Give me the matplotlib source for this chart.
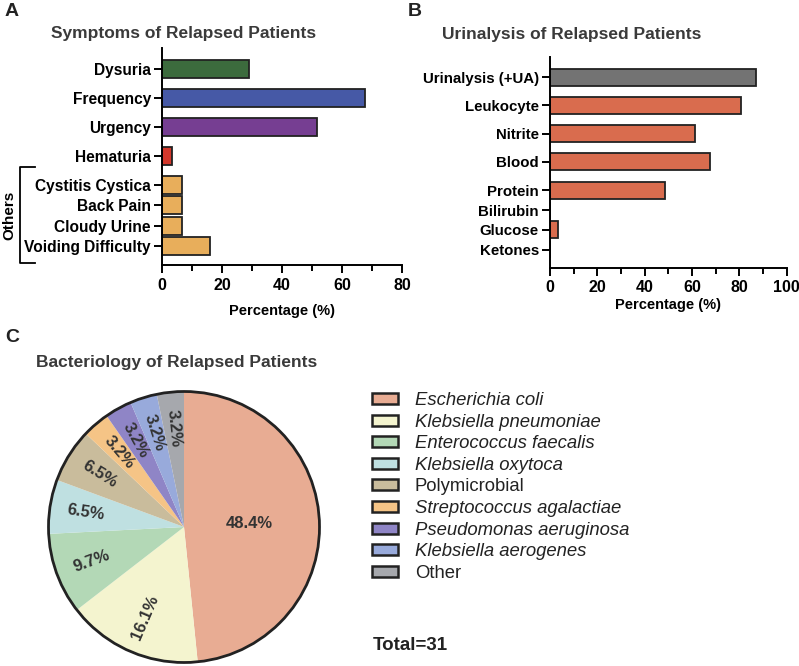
import numpy as np
import matplotlib
matplotlib.use("Agg")
import matplotlib.pyplot as plt
from matplotlib.patches import Patch, Circle
from matplotlib.lines import Line2D

plt.rcParams['font.family'] = ['Liberation Sans', 'DejaVu Sans']

# Panel A: symptoms
symptoms = ["Dysuria", "Frequency", "Urgency", "Hematuria",
            "Cystitis Cystica", "Back Pain", "Cloudy Urine", "Voiding Difficulty"]
symptom_pct = [29.0, 67.7, 51.6, 3.2, 6.5, 6.5, 6.5, 16.1]
symptom_colors = ["#3c6b3d", "#4659a6", "#763e92", "#d3382c",
                  "#e8ae5b", "#e8ae5b", "#e8ae5b", "#e8ae5b"]

# Panel B: urinalysis
ua_tests = ["Urinalysis (+UA)", "Leukocyte", "Nitrite", "Blood",
            "Protein", "Bilirubin", "Glucose", "Ketones"]
ua_pct = [87.1, 80.6, 61.3, 67.7, 48.4, 0.0, 3.2, 0.0]
ua_colors = ["#737373"] + ["#d96c4e"] * 7

# Panel C: bacteriology
bacteria = ["Escherichia coli", "Klebsiella pneumoniae", "Enterococcus faecalis",
            "Klebsiella oxytoca", "Polymicrobial", "Streptococcus agalactiae",
            "Pseudomonas aeruginosa", "Klebsiella aerogenes", "Other"]
bacteria_counts = [15, 5, 3, 2, 2, 1, 1, 1, 1]
bacteria_colors = ["#e8ac93", "#f4f4cf", "#b3d8b6", "#bfe0e1", "#c9bc9c",
                   "#f5c486", "#8f85c6", "#98aadb", "#a6a8ad"]

W, H = 799, 666
fig = plt.figure(figsize=(W / 100, H / 100), dpi=100)


def px_axes(x0, y0, x1, y1):
    return fig.add_axes([x0 / W, 1 - y1 / H, (x1 - x0) / W, (y1 - y0) / H])


def positions(n_main, n_total, step=0.7):
    # first rows one unit apart, the tail rows packed closer
    pos = list(range(n_main))
    while len(pos) < n_total:
        pos.append(pos[-1] + step)
    return pos


def style_bar_axes(ax, xmax, step, ysize, lpad):
    for s in ["top", "right"]:
        ax.spines[s].set_visible(False)
    for s in ["left", "bottom"]:
        ax.spines[s].set_linewidth(1.4)
    ax.set_xlim(0, xmax)
    ax.set_xticks(np.arange(0, xmax + 1, step))
    ax.set_xticks(np.arange(step / 2, xmax, step), minor=True)
    ax.tick_params(axis="x", which="major", length=6, width=1.4, labelsize=11.5, pad=3)
    ax.tick_params(axis="x", which="minor", length=4, width=1.4)
    ax.tick_params(axis="y", length=6, width=1.4, labelsize=ysize, pad=2)
    for lab in ax.get_xticklabels() + ax.get_yticklabels():
        lab.set_fontweight("bold")
    ax.set_xlabel("Percentage (%)", fontsize=10.5, fontweight="bold", labelpad=lpad)


# ---- A ----
axA = px_axes(162, 48, 402, 265)
posA = positions(5, len(symptoms))
axA.barh(posA, symptom_pct, height=0.62, color=symptom_colors,
         edgecolor="#222222", linewidth=1.3)
axA.set_yticks(posA)
axA.set_yticklabels(symptoms)
axA.set_ylim(6.76, -0.72)
style_bar_axes(axA, 80, 20, 11.2, 8)
axA.set_title("Symptoms of Relapsed Patients", fontsize=12.5, fontweight="bold",
              color="#3a3a3a", pad=7, x=0.09)

# "Others" bracket
bx, by0, by1, bx2 = 20 / W, 1 - 167 / H, 1 - 263 / H, 35 / W
fig.add_artist(Line2D([bx2, bx, bx, bx2], [by0, by0, by1, by1],
                      color="black", lw=1.3, transform=fig.transFigure))
fig.text(9 / W, 1 - 215 / H, "Others", rotation=90, ha="center", va="center",
         fontsize=11, fontweight="bold")

# ---- B ----
axB = px_axes(550, 57, 786.7, 268)
posB = positions(5, len(ua_tests))
axB.barh(posB, ua_pct, height=0.6, color=ua_colors,
         edgecolor="#222222", linewidth=1.3)
axB.set_yticks(posB)
axB.set_yticklabels(ua_tests)
axB.set_ylim(6.75, -0.71)
style_bar_axes(axB, 100, 20, 10.8, 2)
axB.set_title("Urinalysis of Relapsed Patients", fontsize=12.5, fontweight="bold",
              color="#3a3a3a", pad=13, x=0.09)

# ---- C ----
r = 135.5
cx, cy = 184, 527
lim = 1.05
axC = px_axes(cx - r * lim, cy - r * lim, cx + r * lim, cy + r * lim)
total = sum(bacteria_counts)
wedges, _, autotexts = axC.pie(bacteria_counts, colors=bacteria_colors,
                               startangle=90, counterclock=False,
                               autopct="%1.1f%%", pctdistance=0.73,
                               wedgeprops=dict(linewidth=0),
                               textprops=dict(fontsize=12, fontweight="bold",
                                              color="#333333"))
axC.add_patch(Circle((0, 0), 1, fill=False, edgecolor="#222222", linewidth=2))
axC.set_xlim(-lim, lim)
axC.set_ylim(-lim, lim)
axC.set_aspect("equal")

for w, t in zip(wedges, autotexts):
    mid = (w.theta1 + w.theta2) / 2
    rot = mid
    if 90 < (mid % 360) < 270:
        rot = mid - 180
    t.set_rotation(rot)
    t.set_rotation_mode("anchor")
    t.set_ha("center")
    t.set_va("center")
# largest slice label sits closer to centre and horizontal
ang = np.deg2rad((wedges[0].theta1 + wedges[0].theta2) / 2)
autotexts[0].set_position((0.48 * np.cos(ang), 0.48 * np.sin(ang)))
autotexts[0].set_rotation(0)

fig.text(177 / W, 1 - 363 / H, "Bacteriology of Relapsed Patients", ha="center",
         va="center", fontsize=12.5, fontweight="bold", color="#3a3a3a")

handles = [Patch(facecolor=c, edgecolor="#222222", linewidth=1.8) for c in bacteria_colors]
leg = fig.legend(handles, bacteria, loc="upper left",
                 bbox_to_anchor=(372 / W, 1 - 392 / H), frameon=False,
                 fontsize=13.3, handlelength=1.4, handleheight=0.54,
                 handletextpad=0.92, labelspacing=0.25, borderpad=0,
                 borderaxespad=0)
for txt in leg.get_texts():
    if txt.get_text() not in ("Polymicrobial", "Other"):
        txt.set_fontstyle("italic")
    txt.set_color("#222222")

fig.text(373 / W, 1 - 645 / H, "Total=%d" % total, ha="left", va="center",
         fontsize=13.5, fontweight="bold", color="#222222")

# panel letters
for lab, x, y in [("A", 5, 12), ("B", 408, 12), ("C", 5, 337)]:
    fig.text(x / W, 1 - y / H, lab, ha="left", va="center", fontsize=14,
             fontweight="bold", color="#222222")

fig.savefig("out.png", dpi=100)
